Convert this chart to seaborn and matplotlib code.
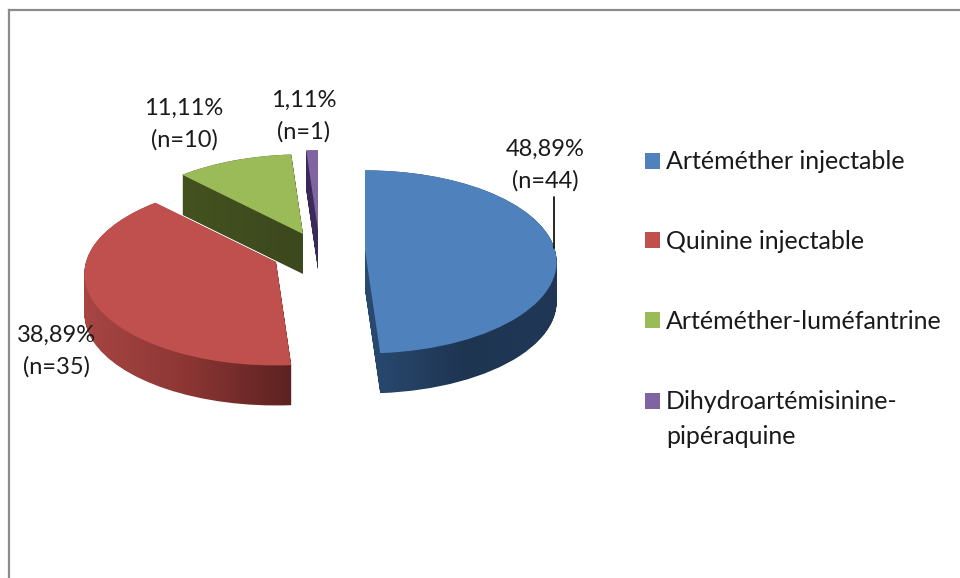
import numpy as np
import matplotlib
matplotlib.use("Agg")
import matplotlib.pyplot as plt
import seaborn as sns
from matplotlib.patches import PathPatch
from matplotlib.path import Path

# data
drugs = ["Artéméther injectable", "Quinine injectable", "Artéméther-luméfantrine", "Dihydroartémisinine-\npipéraquine"]
counts = [44, 35, 10, 1]
pct_labels = ["48,89%\n(n=44)", "38,89%\n(n=35)", "11,11%\n(n=10)", "1,11%\n(n=1)"]

# colours
top_colors = ["#4f81bd", "#c0504d", "#9bbb59", "#8064a2"]
side_colors = [["#2a4a72", "#1e3552", "#203856"],
               ["#a84644", "#8c3634", "#5c2221"],
               ["#44521f", "#404d1f", "#3c481d"],
               ["#3a2a58", "#3a2a58", "#3a2a58"]]

# layout in pixels
W, H = 960, 578
RX, RY = 190.0, 90.0
CX, CY = 322.0, 250.0
DEPTH = 40
TILT = 0.13  # back of the disc looks smaller than the front
explode = [0.2, 0.26, 0.22, 0.2]
# where each slice's tip sits once pulled out
tips = [(365, 250), (276, 262), (303, 234), (318, 230)]
label_xy = [(545, 165), (56, 351), (184, 124), (304, 116)]

sns.set_theme(style="white")
plt.rcParams["font.family"] = ["Lato", "DejaVu Sans"]

fig = plt.figure(figsize=(W / 100, H / 100), dpi=100, facecolor="white")

# outer chart frame, only top and left are inside the picture
frame_ax = fig.add_axes([8.5 / W, 0, (W - 8.5) / W, 568 / H])
frame_ax.set_xticks([])
frame_ax.set_yticks([])
sns.despine(ax=frame_ax, top=False, right=True, left=False, bottom=True)
for s in frame_ax.spines.values():
    s.set_color("#8c8c8c")
    s.set_linewidth(1.6)

# axes where 1 unit = one pie radius along each direction
ax = fig.add_axes([0, 0, 1, 1])
ax.patch.set_alpha(0)
wedges, _ = ax.pie(counts, explode=explode, startangle=90, counterclock=False, radius=1,
                   center=(CX / RX, (H - CY) / RY), colors=top_colors,
                   wedgeprops=dict(linewidth=0))
ax.set_aspect("auto")
ax.set_xlim(0, W / RX)
ax.set_ylim(0, H / RY)
ax.axis("off")

faces = []
for i in [2, 3, 0, 1]:
    w = wedges[i]
    # flat wedge -> perspective view, placed at its tip
    path = w.get_path()
    u = path.vertices[:, 0] - w.center[0]
    v = path.vertices[:, 1] - w.center[1]
    f = 1 / (1 + TILT * v)
    verts = np.column_stack([tips[i][0] / RX + u * f, (H - tips[i][1]) / RY + v * f])
    outline = Path(verts, path.codes)
    w.set_visible(False)

    face = PathPatch(outline, facecolor=top_colors[i], edgecolor="none", zorder=3 + i)
    ax.add_patch(face)
    faces.append((i, face))

    # side of the slice: the top outline swept downward, filled with a gradient
    sweep = [Path(verts - [0, d / RY], path.codes) for d in range(0, DEPTH + 1)]
    clip = Path.make_compound_path(*sweep)
    x0, y0 = clip.vertices.min(axis=0)
    x1, y1 = clip.vertices.max(axis=0)
    rgb = np.array([matplotlib.colors.to_rgb(c) for c in side_colors[i]])
    pos = np.linspace(0, 1, 128)
    grad = np.stack([np.interp(pos, [0, 0.5, 1], rgb[:, k]) for k in range(3)], axis=-1)[None, :, :]
    im = ax.imshow(grad, extent=[x0, x1, y0, y1], aspect="auto", zorder=2, origin="lower")
    im.set_clip_path(clip, ax.transData)

ax.set_aspect("auto")
ax.set_xlim(0, W / RX)
ax.set_ylim(0, H / RY)

# percentage labels
for lab, (px, py) in zip(pct_labels, label_xy):
    ax.text(px / RX, (H - py) / RY, lab, ha="center", va="center", fontsize=17, color="#1a1a1a",
            linespacing=1.58, zorder=10)

# leader line of the blue slice
ax.plot([554 / RX, 554 / RX], [(H - 197) / RY, (H - 248) / RY], color="black", lw=1.2, zorder=10)

# legend
handles = [face for _, face in sorted(faces, key=lambda p: p[0])]
leg = ax.legend(handles, drugs, loc="upper left", bbox_to_anchor=(645 / W, 1 - 150.5 / H),
                frameon=False, fontsize=18, labelspacing=2.27, handlelength=0.6, handleheight=0.6,
                handletextpad=0.24, borderpad=0, borderaxespad=0)
for t in leg.get_texts():
    t.set_color("#1a1a1a")
    t.set_linespacing(1.63)
# two line entry: square sits on the first line
last = leg.legend_handles[3]
last.set_y(last.get_y() + 13)

fig.savefig("out.png", dpi=100)
